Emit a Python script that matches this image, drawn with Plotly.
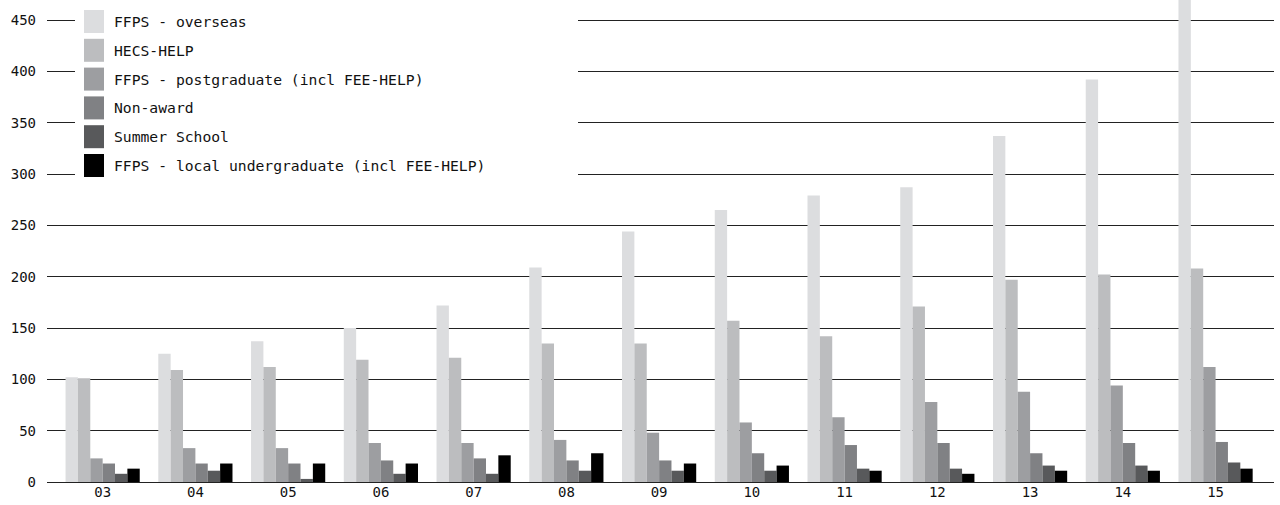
import plotly.graph_objects as go

years = ["03", "04", "05", "06", "07", "08", "09", "10", "11", "12", "13", "14", "15"]

series_names = [
    "FFPS - overseas",
    "HECS-HELP",
    "FFPS - postgraduate (incl FEE-HELP)",
    "Non-award",
    "Summer School",
    "FFPS - local undergraduate (incl FEE-HELP)",
]
series_colors = ["#dcdddf", "#bcbdbf", "#9d9ea1", "#808184", "#58595b", "#000000"]

ffps_overseas = [102, 125, 137, 150, 172, 209, 244, 265, 279, 287, 337, 392, 480]
hecs_help = [101, 109, 112, 119, 121, 135, 135, 157, 142, 171, 197, 202, 208]
ffps_postgrad = [23, 33, 33, 38, 38, 41, 48, 58, 63, 78, 88, 94, 112]
non_award = [18, 18, 18, 21, 23, 21, 21, 28, 36, 38, 28, 38, 39]
summer_school = [8, 11, 3, 8, 8, 11, 11, 11, 13, 13, 16, 16, 19]
ffps_local_ug = [13, 18, 18, 18, 26, 28, 18, 16, 11, 8, 11, 11, 13]

y_ticks = [0, 50, 100, 150, 200, 250, 300, 350, 400, 450]

series_values = [ffps_overseas, hecs_help, ffps_postgrad, non_award, summer_school, ffps_local_ug]

FONT = "DejaVu Sans Mono"
fig = go.Figure()
for name, vals, col in zip(series_names, series_values, series_colors):
    fig.add_trace(go.Bar(x=years, y=vals, name=name, marker_color=col,
                         marker_line_width=0, showlegend=False))

W, H = 1280, 505
ml, mr, mt, mb = 47, 6, 0, 23
pw, ph = W - ml - mr, H - mt - mb


def px_x(x):
    return (x - ml) / pw


def px_y(y):
    return (H - mb - y) / ph


# custom legend (white panel + swatches + labels)
shapes = [dict(type="rect", xref="paper", yref="paper", layer="above",
               x0=px_x(75), x1=px_x(578), y0=px_y(186), y1=1.0,
               fillcolor="white", line_width=0)]
annotations = []
for i, (name, col) in enumerate(zip(series_names, series_colors)):
    top = 10 + i * 28.8
    shapes.append(dict(type="rect", xref="paper", yref="paper", layer="above",
                       x0=px_x(84), x1=px_x(104), y0=px_y(top + 23), y1=px_y(top),
                       fillcolor=col, line_width=0))
    annotations.append(dict(xref="paper", yref="paper", x=px_x(112), y=px_y(top + 11.5),
                            text=name, showarrow=False, xanchor="left", yanchor="middle",
                            font=dict(family=FONT, size=14.7, color="#111")))

fig.update_layout(
    width=W, height=H,
    margin=dict(l=ml, r=mr, t=mt, b=mb, pad=0),
    plot_bgcolor="white", paper_bgcolor="white",
    barmode="group", bargap=0.2, bargroupgap=0,
    font=dict(family=FONT, size=14, color="#111"),
    shapes=shapes, annotations=annotations,
    xaxis=dict(type="category", range=[-0.6, 12.63], showgrid=False,
               showline=False, zeroline=False, ticks="", automargin=False,
               tickfont=dict(family=FONT, size=14, color="#111")),
    yaxis=dict(range=[0, 469.5], tickvals=y_ticks, showgrid=True,
               gridcolor="#222", gridwidth=1, zeroline=True, zerolinecolor="#222",
               zerolinewidth=1, showline=False, ticks="", ticklabelstandoff=10,
               automargin=False,
               tickfont=dict(family=FONT, size=14, color="#111")),
)

fig.write_html("out.html", config={"displayModeBar": False},
               post_script="document.body.style.margin='0';")
